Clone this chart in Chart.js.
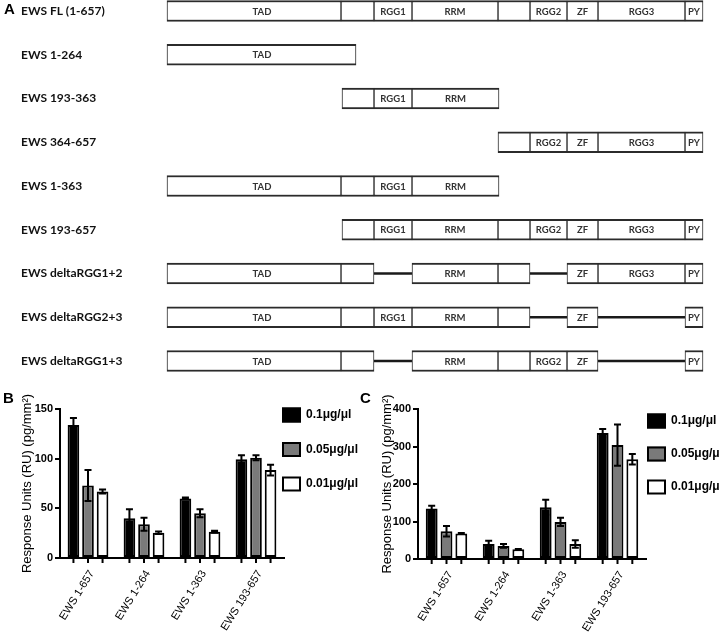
<!DOCTYPE html>
<html>
<head>
<meta charset="utf-8">
<script src="https://cdn.jsdelivr.net/npm/chart.js@4.4.1/dist/chart.umd.min.js"></script>
<style>
  html, body { margin: 0; padding: 0; background: #fff; }
  #wrap { position: relative; width: 720px; height: 636px; overflow: hidden; }
  .panel { position: absolute; font: bold 15px "Liberation Sans", Arial, sans-serif; color: #000; line-height: 17px; }
  canvas { position: absolute; }
</style>
</head>
<body>
<div id="wrap">
  <canvas id="domains" width="720" height="372" style="left:0;top:0"></canvas>
  <canvas id="chartB" width="360" height="276" style="left:0;top:360px"></canvas>
  <canvas id="chartC" width="360" height="276" style="left:360px;top:360px"></canvas>
  <div class="panel" style="left:4px;top:0px">A</div>
  <div class="panel" style="left:3px;top:389px">B</div>
  <div class="panel" style="left:360px;top:389px">C</div>
</div>
<script>
// ---- panel A: construct map (schematic units along the protein) ----
const constructs = ['EWS FL (1-657)', 'EWS 1-264', 'EWS 193-363', 'EWS 364-657', 'EWS 1-363',
  'EWS 193-657', 'EWS deltaRGG1+2', 'EWS deltaRGG2+3', 'EWS deltaRGG1+3'];
const N = null;
const tadSpan  = [[0,174],[0,189],N,N,[0,174],N,[0,174],[0,174],[0,174]];
const gap1Span = [[174,207],N,[175,207],N,[174,207],[175,207],[174,207],[174,207],[174,207]];
const rgg1Span = [[207,245],N,[207,245],N,[207,245],[207,245],N,[207,245],N];
const rrmSpan  = [[245,331],N,[245,332],N,[245,332],[245,331],[245,331],[245,331],[245,331]];
const gap2Span = [[331,363],N,N,[331,363],N,[331,363],[331,363],[331,363],[331,363]];
const rgg2Span = [[363,400],N,N,[363,400],N,[363,400],N,N,[363,400]];
const zfSpan   = [[400,431],N,N,[400,431],N,[400,431],[400,431],[400,431],[400,431]];
const rgg3Span = [[431,518],N,N,[431,518],N,[431,518],[431,518],N,N];
const pySpan   = [[518,536],N,N,[518,536],N,[518,536],[518,536],[518,536],[518,536]];
// deleted regions shown as a joining line
const delRgg1  = [N,N,N,N,N,N,[207,245],N,[207,245]];
const delRgg2  = [N,N,N,N,N,N,[363,400],[363,400],[363,400]];
const delRgg3  = [N,N,N,N,N,N,N,[431,518],[431,518]];

// ---- panels B and C: binding responses ----
const groups = ['EWS 1-657', 'EWS 1-264', 'EWS 1-363', 'EWS 193-657'];
const concLabels = ['0.1μg/μl', '0.05μg/μl', '0.01μg/μl'];

const bHigh = [134, 40, 60, 99.5],   bHighErr = [7, 9, 1, 4];
const bMid  = [73, 34, 45, 101],     bMidErr  = [15.5, 6.5, 4, 2.5];
const bLow  = [67, 25.5, 26.5, 88.5], bLowErr = [2, 1.3, 1, 5.5];

const cHigh = [135, 40, 138, 336],   cHighErr = [7, 9, 20, 11];
const cMid  = [74, 35, 99, 304],     cMidErr  = [14, 5, 11, 55];
const cLow  = [68, 26, 40, 266],     cLowErr  = [1.5, 1, 10, 14];

const bTicks = [0, 50, 100, 150];
const cTicks = [0, 100, 200, 300, 400];

Chart.defaults.font.family = '"Liberation Sans", Arial, sans-serif';
Chart.defaults.color = '#000';

const boxStyle = {
  backgroundColor: '#fff',
  borderColor: '#2b2b2b',
  borderWidth: { top: 2, bottom: 2, left: 1, right: 1 },
  borderSkipped: false,
  barThickness: 21,
  grouped: false,
  clip: false
};
const lineStyle = {
  backgroundColor: '#1a1a1a',
  borderWidth: 0,
  barThickness: 2,
  grouped: false,
  clip: false
};

const domainText = {
  id: 'domainText',
  afterDatasetsDraw(chart) {
    const ctx = chart.ctx, xs = chart.scales.x;
    ctx.save();
    ctx.font = 'bold 9.5px Lato, sans-serif';
    ctx.fillStyle = '#333';
    ctx.textAlign = 'center';
    ctx.textBaseline = 'middle';
    chart.data.datasets.forEach((ds, i) => {
      if (!ds.tag) return;
      chart.getDatasetMeta(i).data.forEach((bar, j) => {
        if (!ds.data[j]) return;
        const p = bar.getProps(['x', 'base', 'y'], true);
        const cx = ds.tagAt != null ? xs.getPixelForValue(ds.tagAt) : (p.x + p.base) / 2;
        ctx.fillText(ds.tag, cx, p.y + 0.5);
      });
    });
    ctx.restore();
  }
};

new Chart(document.getElementById('domains'), {
  type: 'bar',
  data: {
    labels: constructs,
    datasets: [
      { ...boxStyle, data: tadSpan, tag: 'TAD', tagAt: 95 },
      { ...boxStyle, data: gap1Span },
      { ...boxStyle, data: rgg1Span, tag: 'RGG1' },
      { ...boxStyle, data: rrmSpan, tag: 'RRM' },
      { ...boxStyle, data: gap2Span },
      { ...boxStyle, data: rgg2Span, tag: 'RGG2' },
      { ...boxStyle, data: zfSpan, tag: 'ZF' },
      { ...boxStyle, data: rgg3Span, tag: 'RGG3' },
      { ...boxStyle, data: pySpan, tag: 'PY' },
      { ...lineStyle, data: delRgg1 },
      { ...lineStyle, data: delRgg2 },
      { ...lineStyle, data: delRgg3 }
    ]
  },
  options: {
    indexAxis: 'y',
    responsive: false,
    animation: false,
    layout: { padding: { left: 21, right: 17, top: 11, bottom: 11 } },
    plugins: { legend: { display: false }, tooltip: { enabled: false } },
    scales: {
      x: { type: 'linear', min: 0, max: 536, display: false },
      y: {
        type: 'category',
        offset: false,
        grid: { display: false, drawTicks: false },
        border: { display: false },
        ticks: { crossAlign: 'far', padding: 0, color: '#111', font: { family: 'Lato, sans-serif', size: 12, weight: 'bold' } },
        afterFit: s => { s.width = 146; }
      }
    }
  },
  plugins: [domainText]
});

// ---- bar chart helpers ----
const errorBars = {
  id: 'errorBars',
  afterDatasetsDraw(chart) {
    const ctx = chart.ctx, ys = chart.scales.y;
    ctx.save();
    ctx.strokeStyle = '#000';
    ctx.lineWidth = 2;
    chart.data.datasets.forEach((ds, i) => {
      chart.getDatasetMeta(i).data.forEach((bar, j) => {
        const v = ds.data[j], e = ds.errors[j];
        const top = ys.getPixelForValue(v + e), bot = ys.getPixelForValue(Math.max(0, v - e));
        const x = bar.x;
        ctx.beginPath();
        ctx.moveTo(x, top); ctx.lineTo(x, bot);
        ctx.moveTo(x - 3.5, top); ctx.lineTo(x + 3.5, top);
        ctx.moveTo(x - 3.5, bot); ctx.lineTo(x + 3.5, bot);
        ctx.stroke();
      });
    });
    ctx.restore();
  }
};

const barTicks = {
  id: 'barTicks',
  afterDraw(chart) {
    const ctx = chart.ctx, b = chart.chartArea.bottom;
    ctx.save();
    ctx.strokeStyle = '#000';
    ctx.lineWidth = 2;
    chart.data.datasets.forEach((ds, i) => {
      chart.getDatasetMeta(i).data.forEach(bar => {
        ctx.beginPath();
        ctx.moveTo(bar.x, b); ctx.lineTo(bar.x, b + 5);
        ctx.stroke();
      });
    });
    ctx.restore();
  }
};

const sideLegend = {
  id: 'sideLegend',
  afterDraw(chart, args, o) {
    const ctx = chart.ctx;
    ctx.save();
    ctx.font = 'bold 12px "Liberation Sans", Arial, sans-serif';
    ctx.textBaseline = 'middle';
    chart.data.datasets.forEach((ds, i) => {
      const y = o.y + i * o.step;
      ctx.fillStyle = ds.backgroundColor;
      ctx.fillRect(o.x, y - 7.5, 19, 15);
      ctx.lineWidth = 2;
      ctx.strokeStyle = '#000';
      ctx.strokeRect(o.x + 1, y - 6.5, 17, 13);
      ctx.fillStyle = '#000';
      ctx.fillText(ds.label, o.x + 24, y);
    });
    ctx.restore();
  }
};

const barFills = ['#000000', '#7a7a7a', '#ffffff'];

function responseChart(id, series, errors, tickVals, area, legendAt) {
  return new Chart(document.getElementById(id), {
    type: 'bar',
    data: {
      labels: groups,
      datasets: series.map((vals, i) => ({
        label: concLabels[i],
        data: vals,
        errors: errors[i],
        backgroundColor: barFills[i],
        borderColor: '#000',
        borderWidth: 2,
        borderSkipped: false,
        barPercentage: 0.8,
        categoryPercentage: 0.78
      }))
    },
    options: {
      responsive: false,
      animation: false,
      layout: { padding: { left: 16, right: 360 - area.right, top: area.top, bottom: 0 } },
      plugins: { legend: { display: false }, tooltip: { enabled: false }, sideLegend: legendAt },
      scales: {
        x: {
          grid: { display: false, drawTicks: false },
          border: { color: '#000', width: 2 },
          ticks: { autoSkip: false, minRotation: 58, maxRotation: 58, padding: 10, labelOffset: 4, font: { size: 11 } },
          afterFit: s => { s.height = 276 - area.bottom; }
        },
        y: {
          min: tickVals[0],
          max: tickVals[tickVals.length - 1],
          afterBuildTicks: s => { s.ticks = tickVals.map(v => ({ value: v })); },
          grid: { drawOnChartArea: false, tickLength: 5, lineWidth: 2, color: '#000' },
          border: { color: '#000', width: 2 },
          ticks: { padding: 2, font: { size: 11, weight: 'bold' } },
          title: { display: true, text: 'Response Units (RU) (pg/mm²)', font: { size: 13 }, padding: { top: 4, bottom: 0 } },
          afterFit: s => { s.width = area.left - 16; }
        }
      }
    },
    plugins: [errorBars, barTicks, sideLegend]
  });
}

responseChart('chartB', [bHigh, bMid, bLow], [bHighErr, bMidErr, bLowErr], bTicks,
  { left: 60, right: 284, top: 49, bottom: 198 }, { x: 282, y: 55, step: 34.5 });
responseChart('chartC', [cHigh, cMid, cLow], [cHighErr, cMidErr, cLowErr], cTicks,
  { left: 58, right: 286, top: 49, bottom: 199 }, { x: 287, y: 61, step: 33 });
</script>
</body>
</html>
